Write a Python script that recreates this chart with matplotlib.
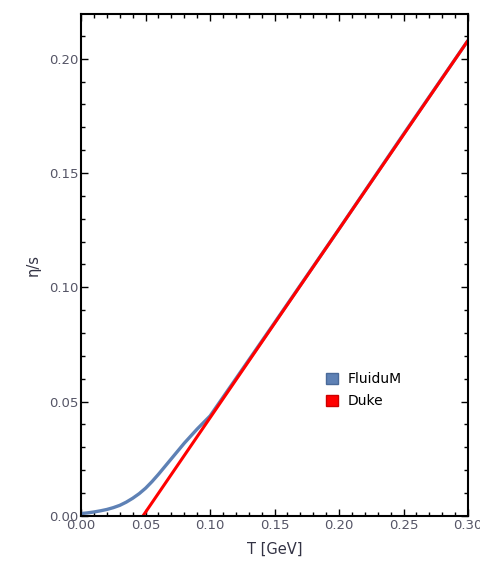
import matplotlib
matplotlib.use("Agg")
from matplotlib import pyplot as plt
from matplotlib.ticker import MultipleLocator
from matplotlib.patches import Patch

# FluiduM curve
t_fluidum = [0.0, 0.005, 0.01, 0.015, 0.02, 0.025, 0.03, 0.035, 0.04, 0.045, 0.05,
             0.055, 0.06, 0.065, 0.07, 0.075, 0.08, 0.09, 0.10, 0.12, 0.15, 0.20, 0.25, 0.30]
eta_fluidum = [0.0010, 0.0013, 0.0017, 0.0022, 0.0028, 0.0036, 0.0046, 0.0060, 0.0077,
               0.0097, 0.0121, 0.0150, 0.0182, 0.0216, 0.0250, 0.0284, 0.0318, 0.0380,
               0.0437, 0.0600, 0.0845, 0.1255, 0.1670, 0.2080]

# Duke parametrisation
t_duke = [0.048, 0.30]
eta_duke = [0.0, 0.208]

blue = "#5E81B5"
red = "#FF0000"
tick_col = "#555566"

fig = plt.figure(figsize=(4.8, 5.7), dpi=100)
ax = fig.add_axes([0.169, 0.095, 0.806, 0.881])

ax.plot(t_fluidum, eta_fluidum, color=blue, lw=2.4, solid_capstyle="butt")
ax.plot(t_duke, eta_duke, color=red, lw=2.2, solid_capstyle="butt")

ax.set_xlim(0, 0.30)
ax.set_ylim(0, 0.2197)
ax.xaxis.set_major_locator(MultipleLocator(0.05))
ax.xaxis.set_minor_locator(MultipleLocator(0.01))
ax.yaxis.set_major_locator(MultipleLocator(0.05))
ax.yaxis.set_minor_locator(MultipleLocator(0.01))
ax.xaxis.set_major_formatter(plt.FuncFormatter(lambda v, p: "%.2f" % v))
ax.yaxis.set_major_formatter(plt.FuncFormatter(lambda v, p: "%.2f" % v))

ax.tick_params(which="both", direction="in", top=True, right=True,
               labelsize=9.5, labelcolor=tick_col, pad=2)
ax.tick_params(which="major", length=5, width=1)
ax.tick_params(which="minor", length=3, width=1)
for s in ax.spines.values():
    s.set_linewidth(1.5)

ax.set_xlabel("T [GeV]", fontsize=10.5, color="#333344", labelpad=7)
ax.set_ylabel("η/s", fontsize=10.5, color="#333344", labelpad=6)

handles = [Patch(facecolor=blue, edgecolor="#4a6a99", label="FluiduM"),
           Patch(facecolor=red, edgecolor="#cc0000", label="Duke")]
ax.legend(handles=handles, loc="center left", bbox_to_anchor=(0.6, 0.25),
          frameon=False, fontsize=10, handlelength=0.9, handleheight=0.9,
          handletextpad=0.7, labelspacing=0.6)

fig.savefig("out.png", dpi=100)
